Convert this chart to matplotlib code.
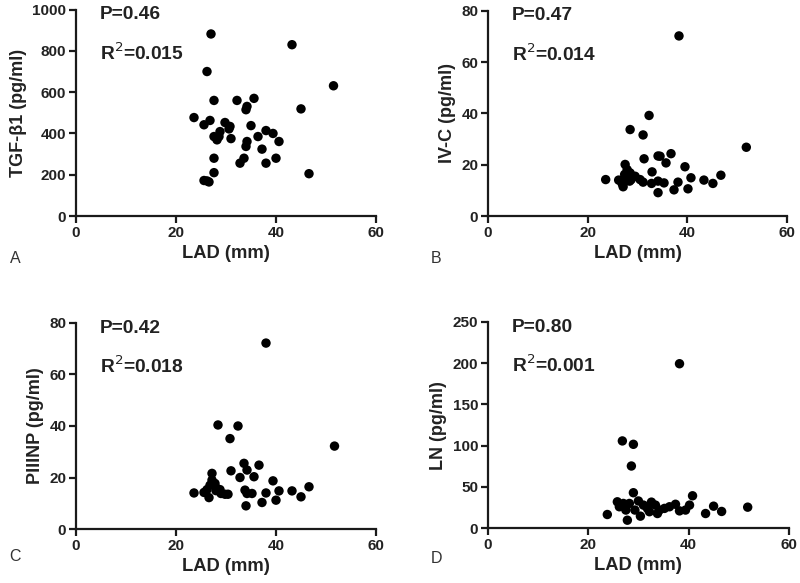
import matplotlib
matplotlib.use("Agg")
import matplotlib.pyplot as plt

plt.rcParams['font.family'] = ['Liberation Sans', 'DejaVu Sans']

# Panel A: TGF-beta1
a_x = [27.0, 43.2, 26.2, 51.5, 27.6, 32.2, 35.6, 34.2, 34.0, 45.0, 23.6, 25.6, 26.8, 27.6, 28.8,
       28.6, 28.2, 29.8, 30.8, 30.6, 31.0, 35.0, 36.4, 38.0, 39.4, 40.6, 34.2, 34.0, 37.2, 33.6,
       32.8, 40.0, 38.0, 27.6, 27.6, 25.6, 26.6, 46.6, 26.2]
a_y = [882, 830, 700, 631, 560, 560, 570, 531, 515, 519, 477, 442, 463, 385, 409,
       385, 369, 453, 434, 422, 375, 438, 385, 414, 400, 361, 361, 337, 324, 280,
       256, 280, 256, 280, 210, 172, 165, 205, 170]

# Panel B: IV-C
b_x = [38.3, 32.3, 28.5, 31.1, 51.8, 36.7, 34.1, 34.5, 31.3, 35.7, 27.5, 39.5, 32.9, 46.7, 40.7,
       23.6, 43.3, 34.1, 35.3, 38.1, 45.1, 37.3, 40.1, 34.1, 27.9, 28.5, 27.4, 29.5, 27.6, 28.4,
       30.5, 31.1, 32.8, 26.9, 27.1, 28.7, 26.2]
b_y = [70.2, 39.2, 33.7, 31.6, 26.8, 24.3, 23.4, 23.3, 22.3, 20.7, 20.1, 19.2, 17.2, 15.9, 14.9,
       14.2, 14.0, 13.6, 12.9, 13.2, 12.7, 10.2, 10.6, 9.1, 18.1, 16.8, 16.2, 15.5, 13.6, 13.6,
       14.2, 13.2, 12.7, 12.6, 11.4, 14.2, 14.0]

# Panel C: PIIINP
c_x = [38.0, 28.4, 32.4, 30.8, 51.7, 31.0, 33.6, 36.6, 34.2, 27.2, 32.8, 35.6, 39.4, 46.6, 23.6,
       40.6, 43.2, 38.0, 45.0, 33.8, 34.2, 35.2, 37.2, 40.0, 34.0, 25.6, 26.6, 27.2, 27.8, 26.8,
       28.2, 28.8, 26.2, 29.8, 30.4, 29.0, 28.0]
c_y = [72.2, 40.4, 40.0, 35.1, 32.2, 22.6, 25.5, 24.8, 22.9, 21.6, 20.0, 20.3, 18.7, 16.4, 14.0,
       14.8, 14.8, 14.0, 12.5, 15.1, 13.8, 13.8, 10.3, 11.2, 9.0, 14.2, 12.2, 19.0, 17.7, 17.0,
       15.7, 15.3, 15.3, 13.5, 13.5, 13.8, 14.9]

# Panel D: LN
d_x = [38.2, 26.8, 29.0, 28.6, 29.0, 40.8, 51.8, 45.0, 46.6, 43.4, 23.8, 27.8, 30.4, 25.8, 26.2,
       27.0, 27.5, 28.2, 30.0, 31.0, 31.8, 32.6, 33.4, 34.2, 33.8, 35.2, 36.2, 37.4, 38.2, 39.4,
       40.2, 32.2, 29.3, 26.5]
d_y = [199.4, 105.8, 101.7, 75.4, 43.0, 39.3, 25.5, 26.7, 20.3, 17.8, 16.6, 9.7, 14.6, 32.0, 26.0,
       30.0, 22.0, 30.0, 33.0, 28.0, 24.0, 31.6, 28.0, 22.0, 17.8, 24.0, 26.0, 29.0, 21.0, 22.0,
       28.0, 20.0, 22.0, 28.0]

panels = [
    dict(x=a_x, y=a_y, ylabel='TGF-β1 (pg/ml)', ylim=1000, yticks=[0, 200, 400, 600, 800, 1000],
         p='P=0.46', r='0.015', letter='A', rect=[0.095, 0.6295, 0.375, 0.354], ly=0.557),
    dict(x=b_x, y=b_y, ylabel='IV-C (pg/ml)', ylim=80, yticks=[0, 20, 40, 60, 80],
         p='P=0.47', r='0.014', letter='B', rect=[0.61, 0.6295, 0.374, 0.352], ly=0.557),
    dict(x=c_x, y=c_y, ylabel='PIIINP (pg/ml)', ylim=80, yticks=[0, 20, 40, 60, 80],
         p='P=0.42', r='0.018', letter='C', rect=[0.095, 0.0926, 0.375, 0.3534], ly=0.045),
    dict(x=d_x, y=d_y, ylabel='LN (pg/ml)', ylim=250, yticks=[0, 50, 100, 150, 200, 250],
         p='P=0.80', r='0.001', letter='D', rect=[0.61, 0.094, 0.376, 0.3537], ly=0.042),
]

fig = plt.figure(figsize=(8, 5.83), dpi=100)
for pnl in panels:
    ax = fig.add_axes(pnl['rect'])
    ax.scatter(pnl['x'], pnl['y'], s=46, color='black', edgecolors='none', zorder=3, clip_on=False)
    ax.set_xlim(0, 60)
    ax.set_ylim(0, pnl['ylim'])
    ax.set_xticks([0, 20, 40, 60])
    ax.set_yticks(pnl['yticks'])
    for s in ['top', 'right']:
        ax.spines[s].set_visible(False)
    for s in ['left', 'bottom']:
        ax.spines[s].set_linewidth(1.6)
        ax.spines[s].set_color('#1a1a1a')
    ax.tick_params(width=1.6, length=5, labelsize=11, color='#1a1a1a', pad=2)
    for lbl in ax.get_xticklabels() + ax.get_yticklabels():
        lbl.set_fontweight('bold')
        lbl.set_color('#222222')
    ax.set_xlabel('LAD (mm)', fontsize=13.2, fontweight='bold', color='#222222', labelpad=4)
    ax.set_ylabel(pnl['ylabel'], fontsize=13, fontweight='bold', color='#222222', labelpad=4)
    ax.text(0.08, 0.975, pnl['p'], transform=ax.transAxes, fontsize=13.8, fontweight='bold',
            va='center', ha='left', color='#222222')
    ax.text(0.08, 0.79, r'R$^{\mathrm{2}}$=' + pnl['r'], transform=ax.transAxes, fontsize=13.8,
            fontweight='bold', va='center', ha='left', color='#222222')
    r = pnl['rect']
    fig.text(0.012 if r[0] < 0.5 else 0.538, pnl['ly'], pnl['letter'], fontsize=11.5,
             color='#333333', va='center', ha='left')

fig.savefig('out.png', dpi=100, facecolor='white')
